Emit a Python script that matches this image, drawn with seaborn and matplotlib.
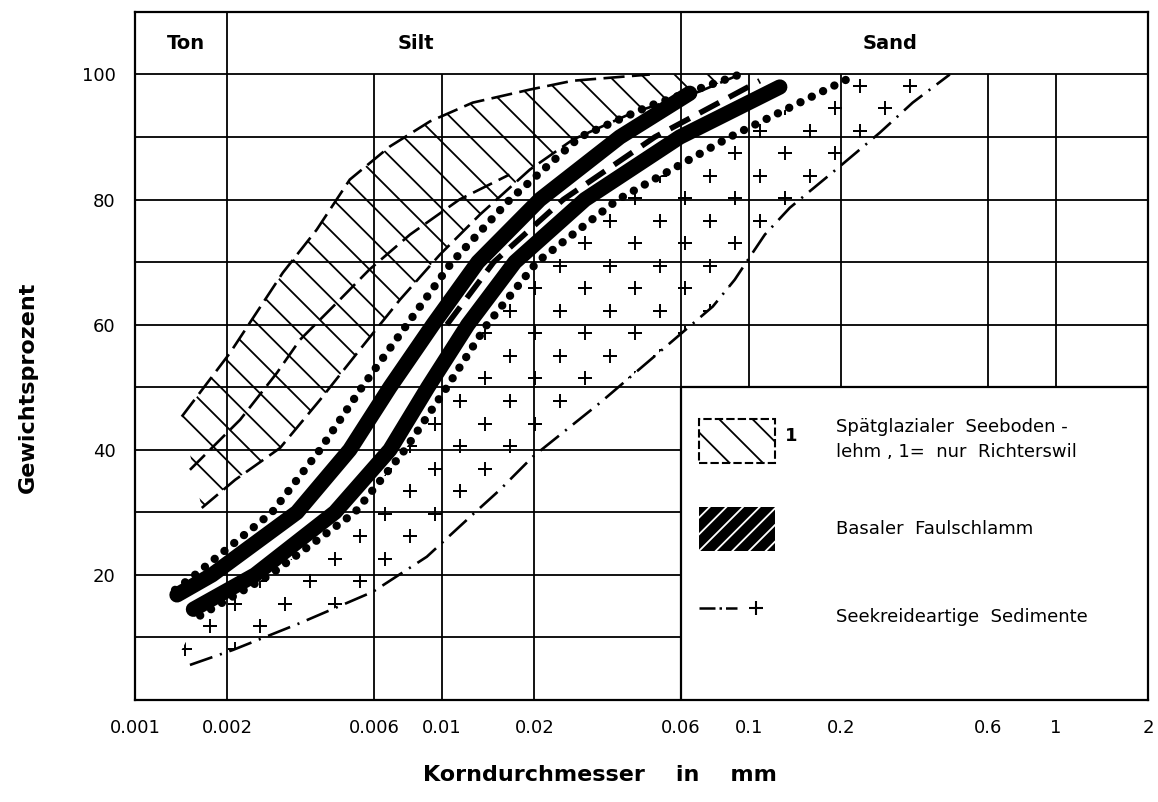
import numpy as np
import matplotlib
matplotlib.use("Agg")
import matplotlib.pyplot as plt
import matplotlib.patches as mpatches
from matplotlib.lines import Line2D
from matplotlib.legend_handler import HandlerTuple
import seaborn as sns

# grain size in mm (x) and weight percent (y)

# Spaetglazialer Seebodenlehm: upper and lower dashed limits, inner line (Richterswil)
lehm_top_x = [0.00142, 0.00204, 0.00303, 0.00391, 0.00501, 0.00677, 0.00914, 0.0126, 0.0194, 0.0267, 0.0476]
lehm_top_y = [45.3, 55.5, 68.3, 75.2, 83.2, 88.5, 92.5, 95.5, 97.6, 99.0, 100]
lehm_bot_x = [0.00165, 0.00212, 0.00297, 0.00401, 0.0054, 0.0073, 0.00985, 0.0133, 0.01935, 0.02673, 0.0419, 0.06925, 0.0935]
lehm_bot_y = [30.7, 35.2, 40.3, 48.0, 56.0, 64.0, 71.2, 77.6, 84.8, 89.6, 93.9, 97.3, 100]
richt_x = [0.00151, 0.0022, 0.0029, 0.00345, 0.00442, 0.0058, 0.00787, 0.0114, 0.0166]
richt_y = [36.8, 44.8, 52.3, 57.6, 62.9, 68.8, 74.4, 80.0, 84.0]

# Basaler Faulschlamm: dotted limits and the two black stripes
faul_top_x = [0.00135, 0.001568, 0.002795, 0.004005, 0.005488, 0.007691, 0.01078, 0.01665, 0.02815, 0.04762, 0.0935]
faul_top_y = [17.6, 20, 30, 40, 50, 60, 70, 80, 90, 95, 100]
faul_bot_x = [0.00163, 0.002753, 0.005207, 0.007577, 0.01038, 0.01402, 0.02039, 0.03744, 0.0867, 0.2249]
faul_bot_y = [13.5, 20, 30, 40, 50, 60, 70, 80, 90, 100]
stripe1_x = [0.00137, 0.001782, 0.003371, 0.00501, 0.00677, 0.009347, 0.0131, 0.02085, 0.038, 0.0642]
stripe1_y = [16.8, 20, 30, 40, 50, 60, 70, 80, 90, 97]
stripe2_x = [0.00155, 0.00246, 0.004482, 0.00677, 0.009004, 0.01215, 0.01729, 0.02923, 0.0596, 0.1262]
stripe2_y = [14.5, 20, 30, 40, 50, 60, 70, 80, 90, 98]
stripe_mid_x = [0.01038, 0.01475, 0.02484, 0.0494, 0.1086]
stripe_mid_y = [60, 70, 80, 90, 99]

# Seekreideartige Sedimente: dash-dot lower limit, upper limit of the crosses
kreide_bot_x = [0.00151, 0.002085, 0.00345, 0.00596, 0.00893, 0.01206, 0.01545, 0.01978, 0.03273,
                0.0596, 0.07632, 0.09001, 0.0985, 0.1128, 0.1361, 0.1979, 0.2673, 0.342, 0.4518]
kreide_bot_y = [5.6, 8.0, 12.3, 17.3, 22.9, 28.8, 33.6, 38.9, 47.5,
                58.4, 62.9, 67.2, 70.1, 74.4, 78.7, 85.3, 90.7, 95.5, 100]
kreide_top_x = [0.0014, 0.00163, 0.002753, 0.005207, 0.007577, 0.01038, 0.01402, 0.02039, 0.03744, 0.0867, 0.2249, 0.4518]
kreide_top_y = [7.5, 13.5, 20, 30, 40, 50, 60, 70, 80, 90, 100, 100]

# axes, grid and classes
x_ticks = [0.001, 0.002, 0.006, 0.01, 0.02, 0.06, 0.1, 0.2, 0.6, 1, 2]
x_labels = ["0.001", "0.002", "0.006", "0.01", "0.02", "0.06", "0.1", "0.2", "0.6", "1", "2"]
grid_x = [0.002, 0.006, 0.01, 0.02, 0.06, 0.1, 0.2, 0.6, 1]
grid_y = [10, 20, 30, 40, 50, 60, 70, 80, 90, 100]
y_ticks = [20, 40, 60, 80, 100]
zones = ["Ton", "Silt", "Sand"]
zone_pos = [0.00146, 0.0082, 0.288]
zone_bounds = [0.002, 0.06]

sns.set_style("white")
plt.rcParams["font.family"] = ["DejaVu Sans"]
plt.rcParams["hatch.linewidth"] = 1.3
for key in ["text.color", "axes.labelcolor", "xtick.color", "ytick.color", "axes.edgecolor"]:
    plt.rcParams[key] = "black"

fig = plt.figure(figsize=(11.58, 8.02), dpi=100)
ax = fig.add_axes([0.1166, 0.1272, 0.8748, 0.8579])
ax.set_xscale("log")
ax.set_xlim(0.001, 2)
ax.set_ylim(0, 110)

ax.vlines(grid_x, 0, 100, color="black", lw=1.3, zorder=1)
ax.vlines(zone_bounds, 100, 110, color="black", lw=1.3, zorder=1)
ax.hlines(grid_y, 0.001, 2, color="black", lw=1.3, zorder=1)
for name, xc in zip(zones, zone_pos):
    ax.text(xc, 105, name, ha="center", va="center", fontsize=14, fontweight="bold")

# Seekreide: crosses clipped to the area, dash-dot lower limit
kreide_patch = ax.fill(np.r_[kreide_bot_x, kreide_top_x[::-1]], np.r_[kreide_bot_y, kreide_top_y[::-1]],
                       facecolor="none", lw=0, zorder=2)[0]
lx, ly = np.meshgrid(np.arange(-3.0, 0.4, 0.163), np.arange(1.0, 101, 3.6))
lx = lx + (np.arange(ly.shape[0]) % 2)[:, None] * 0.0815
crosses = ax.scatter(10 ** lx.ravel(), ly.ravel(), marker="+", s=110, linewidths=1.4, color="black", zorder=2)
crosses.set_clip_path(kreide_patch)
sns.lineplot(x=kreide_bot_x, y=kreide_bot_y, ax=ax, color="black", lw=1.9,
             linestyle=(0, (9, 3, 0.8, 3)), sort=False, estimator=None, zorder=3)

# Seebodenlehm: hatched band with dashed limits
ax.fill(np.r_[lehm_top_x, lehm_bot_x[::-1]], np.r_[lehm_top_y, lehm_bot_y[::-1]],
        facecolor="none", edgecolor="black", hatch="\\", lw=0, zorder=2)
for xs, ys in [(lehm_top_x, lehm_top_y), (lehm_bot_x, lehm_bot_y), (richt_x, richt_y)]:
    sns.lineplot(x=xs, y=ys, ax=ax, color="black", lw=1.9, linestyle=(0, (8, 2.8)),
                 sort=False, estimator=None, zorder=3)

# Faulschlamm: dotted limits, thick black stripes
for xs, ys in [(faul_top_x, faul_top_y), (faul_bot_x, faul_bot_y)]:
    sns.lineplot(x=xs, y=ys, ax=ax, color="black", lw=6, linestyle=(0, (0.01, 1.5)),
                 dash_capstyle="round", sort=False, estimator=None, zorder=5)
for xs, ys in [(stripe1_x, stripe1_y), (stripe2_x, stripe2_y)]:
    sns.lineplot(x=xs, y=ys, ax=ax, color="black", lw=11, solid_capstyle="round",
                 solid_joinstyle="round", sort=False, estimator=None, zorder=5)
sns.lineplot(x=stripe_mid_x, y=stripe_mid_y, ax=ax, color="black", lw=4, linestyle=(0, (4, 2)),
             sort=False, estimator=None, zorder=5)

# legend box
ax.add_patch(mpatches.Rectangle((0.06, 0), 1.94, 50, facecolor="white", edgecolor="black",
                                lw=1.6, zorder=6))
h_lehm = mpatches.Patch(facecolor="none", edgecolor="black", hatch="\\", linestyle=(0, (4, 1.5)), lw=1.5)
h_faul = mpatches.Patch(facecolor="black", edgecolor="white", hatch="//", lw=0)
h_kreide = (Line2D([], [], color="black", ls="-.", lw=1.8),
            Line2D([], [], ls="none", marker="+", ms=10, mew=1.5, color="black"))
labels = ["Spätglazialer  Seeboden -\nlehm , 1=  nur  Richterswil", "Basaler  Faulschlamm",
          "Seekreideartige  Sedimente"]
leg = ax.legend([h_lehm, h_faul, h_kreide], labels, loc="upper left", bbox_to_anchor=(0.557, 0.41),
                frameon=False, fontsize=13, handlelength=4.2, handleheight=3.4, handletextpad=3.4,
                labelspacing=2.4, borderpad=0, borderaxespad=0,
                handler_map={tuple: HandlerTuple(ndivide=None)})
leg.set_zorder(7)
leg.get_texts()[0].set_linespacing(1.5)
ax.text(0.642, 0.377, "1", transform=ax.transAxes, fontsize=13, fontweight="bold", zorder=8)

ax.set_xticks(x_ticks)
ax.set_xticklabels(x_labels)
ax.minorticks_off()
ax.set_yticks(y_ticks)
ax.set_yticklabels([str(v) for v in y_ticks])
ax.tick_params(length=0, labelsize=13)
ax.tick_params(axis="x", pad=14)
ax.tick_params(axis="y", pad=14)
for s in ax.spines.values():
    s.set_color("black")
    s.set_linewidth(1.6)
ax.set_xlabel("")
ax.set_ylabel("")

fig.text(600 / 1158, 1 - 775 / 802, "Korndurchmesser    in    mm", ha="center", va="center",
         fontsize=16, fontweight="bold")
fig.text(28 / 1158, 1 - 387 / 802, "Gewichtsprozent", ha="center", va="center", rotation=90,
         fontsize=16, fontweight="bold")

fig.savefig("out.png", dpi=100)
